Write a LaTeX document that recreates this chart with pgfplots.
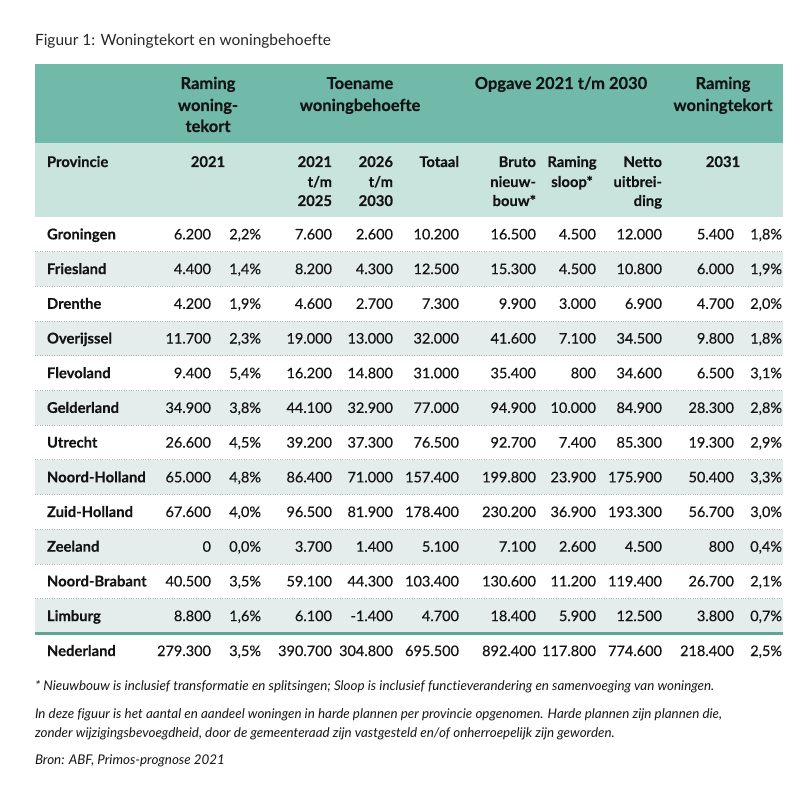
\documentclass[border=0pt]{standalone}
\usepackage{pgfplots}
\usepackage{pgfplotstable}
\usepackage{fontspec}
\setmainfont{Lato}[Ligatures={NoCommon,NoRare,NoDiscretionary}]
\pgfplotsset{compat=1.18}
\definecolor{band}{HTML}{71B9A9}
\definecolor{lband}{HTML}{C9E3DD}
\definecolor{stripe}{HTML}{E4EDEB}
\definecolor{dotc}{HTML}{A9B3B1}
\definecolor{thick}{HTML}{5FA594}
\definecolor{txt}{HTML}{141414}
\newcommand{\sep}{;}

\pgfplotstableread[col sep=semicolon]{
name;yb;a;ap;b;c;tot;bruto;sloop;netto;r;rp
Groningen;239.4;6.200;2,2\%;7.600;2.600;10.200;16.500;4.500;12.000;5.400;1,8\%
Friesland;274.1;4.400;1,4\%;8.200;4.300;12.500;15.300;4.500;10.800;6.000;1,9\%
Drenthe;308.8;4.200;1,9\%;4.600;2.700;7.300;9.900;3.000;6.900;4.700;2,0\%
Overijssel;343.5;11.700;2,3\%;19.000;13.000;32.000;41.600;7.100;34.500;9.800;1,8\%
Flevoland;378.2;9.400;5,4\%;16.200;14.800;31.000;35.400;800;34.600;6.500;3,1\%
Gelderland;412.9;34.900;3,8\%;44.100;32.900;77.000;94.900;10.000;84.900;28.300;2,8\%
Utrecht;447.6;26.600;4,5\%;39.200;37.300;76.500;92.700;7.400;85.300;19.300;2,9\%
Noord-Holland;482.3;65.000;4,8\%;86.400;71.000;157.400;199.800;23.900;175.900;50.400;3,3\%
Zuid-Holland;517.0;67.600;4,0\%;96.500;81.900;178.400;230.200;36.900;193.300;56.700;3,0\%
Zeeland;551.7;0;0,0\%;3.700;1.400;5.100;7.100;2.600;4.500;800;0,4\%
Noord-Brabant;586.4;40.500;3,5\%;59.100;44.300;103.400;130.600;11.200;119.400;26.700;2,1\%
Limburg;621.1;8.800;1,6\%;6.100;-1.400;4.700;18.400;5.900;12.500;3.800;0,7\%
Nederland;656.0;279.300;3,5\%;390.700;304.800;695.500;892.400;117.800;774.600;218.400;2,5\%
}\rows

% top header band (centered lines)
\pgfplotstableread[col sep=semicolon]{
x;yb;label
208;89;Raming
208;111;woning-
208;132;tekort
360;89;Toename
360;111;woningbehoefte
561;89;Opgave 2021 t/m 2030
723;89;Raming
723;111;woningtekort
}\headtop

% second header band, centered
\pgfplotstableread[col sep=semicolon]{
x;yb;label
208;167;2021
572;167;Raming
572;187;sloop*
723;167;2031
}\headc

% second header band, right aligned
\pgfplotstableread[col sep=semicolon]{
x;yb;label
332;167;2021
332;187;t/m
332;206;2025
393;167;2026
393;187;t/m
393;206;2030
459;167;Totaal
536;167;Bruto
536;187;nieuw-
536;206;bouw*
662;167;Netto
662;187;uitbrei-
662;206;ding
}\headr

\pgfplotstableread[col sep=semicolon]{
x;yb;label
47;167;Provincie
}\headl

\pgfplotstableread[col sep=semicolon]{
x;yb;label
35;46;Figuur 1: Woningtekort en woningbehoefte
}\titletab

\pgfplotstableread[col sep=semicolon]{
x;yb;label
35;690;* Nieuwbouw is inclusief transformatie en splitsingen\sep{} Sloop is inclusief functieverandering en samenvoeging van woningen.
35;718;In deze figuur is het aantal en aandeel woningen in harde plannen per provincie opgenomen. Harde plannen zijn plannen die,
35;737;zonder wijzigingsbevoegdheid, door de gemeenteraad zijn vastgesteld en/of onherroepelijk zijn geworden.
35;764;Bron: ABF, Primos-prognose 2021
}\foot

\pgfplotsset{
  lbl/.style={only marks, mark=none, point meta=explicit symbolic,
    nodes near coords, nodes near coords align={anchor=#1},
    every node near coord/.append style={inner sep=0pt, outer sep=0pt, text=txt}},
  fbody/.style={every node near coord/.append style={font=\fontsize{14.5}{17}\selectfont\addfontfeature{FakeBold=0.4}}},
  fbodyb/.style={every node near coord/.append style={font=\fontsize{14.8}{17}\selectfont\bfseries\addfontfeature{FakeBold=0.3}}},
  fhead/.style={every node near coord/.append style={font=\fontsize{16.5}{19}\selectfont\bfseries\addfontfeature{FakeBold=0.3}}},
  fhead2/.style={every node near coord/.append style={font=\fontsize{14.8}{17}\selectfont\bfseries\addfontfeature{FakeBold=0.3}}},
}

\begin{document}
\begin{tikzpicture}
\begin{axis}[
  hide axis, scale only axis, width=800pt, height=786pt,
  xmin=0, xmax=800, ymin=0, ymax=786, y dir=reverse, clip=false,
  unbounded coords=jump,
]
% invisible frame: keeps the page as large as the whole 800 x 786 area
\addplot[draw=none, mark=none] coordinates {(0,0) (800,786)};
% header bands
\addplot[fill=band, draw=none] coordinates {(35,64.5) (783,64.5) (783,143) (35,143)} -- cycle;
\addplot[fill=lband, draw=none] coordinates {(35,143) (783,143) (783,217) (35,217)} -- cycle;
% stripes
\addplot[fill=stripe, draw=none] table {
x y
35 251.7
783 251.7
783 286.4
35 286.4
nan nan
35 321.1
783 321.1
783 355.8
35 355.8
nan nan
35 390.5
783 390.5
783 425.2
35 425.2
nan nan
35 459.9
783 459.9
783 494.6
35 494.6
nan nan
35 529.3
783 529.3
783 564.0
35 564.0
nan nan
35 598.7
783 598.7
783 633.4
35 633.4
};
% dotted separators
\addplot[color=dotc, line width=0.9pt, dash pattern=on 1pt off 1.4pt] table {
x y
35 251.7
783 251.7
nan nan
35 286.4
783 286.4
nan nan
35 321.1
783 321.1
nan nan
35 355.8
783 355.8
nan nan
35 390.5
783 390.5
nan nan
35 425.2
783 425.2
nan nan
35 459.9
783 459.9
nan nan
35 494.6
783 494.6
nan nan
35 529.3
783 529.3
nan nan
35 564.0
783 564.0
nan nan
35 598.7
783 598.7
};
% thick line above total
\addplot[color=thick, line width=2.6pt] coordinates {(35,633.4) (783,633.4)};

% title and footnotes
\addplot[lbl=base west, every node near coord/.append style={font=\fontsize{15.5}{19}\selectfont, text=black!85}] table[x=x, y=yb, meta=label] \titletab;
\addplot[lbl=base west, every node near coord/.append style={font=\fontsize{13.4}{16}\selectfont\itshape}] table[x=x, y=yb, meta=label] \foot;

% headers
\addplot[lbl=base, fhead] table[x=x, y=yb, meta=label] \headtop;
\addplot[lbl=base, fhead2] table[x=x, y=yb, meta=label] \headc;
\addplot[lbl=base east, fhead2] table[x=x, y=yb, meta=label] \headr;
\addplot[lbl=base west, fhead2] table[x=x, y=yb, meta=label] \headl;

% body
\addplot[lbl=base west, fbodyb] table[x expr=47, y=yb, meta=name] \rows;
\addplot[lbl=base east, fbody] table[x expr=211, y=yb, meta=a] \rows;
\addplot[lbl=base east, fbody] table[x expr=261, y=yb, meta=ap] \rows;
\addplot[lbl=base east, fbody] table[x expr=332, y=yb, meta=b] \rows;
\addplot[lbl=base east, fbody] table[x expr=393, y=yb, meta=c] \rows;
\addplot[lbl=base east, fbody] table[x expr=459, y=yb, meta=tot] \rows;
\addplot[lbl=base east, fbody] table[x expr=536, y=yb, meta=bruto] \rows;
\addplot[lbl=base east, fbody] table[x expr=596, y=yb, meta=sloop] \rows;
\addplot[lbl=base east, fbody] table[x expr=662, y=yb, meta=netto] \rows;
\addplot[lbl=base east, fbody] table[x expr=734, y=yb, meta=r] \rows;
\addplot[lbl=base east, fbody] table[x expr=782, y=yb, meta=rp] \rows;
\end{axis}
\end{tikzpicture}
\end{document}
